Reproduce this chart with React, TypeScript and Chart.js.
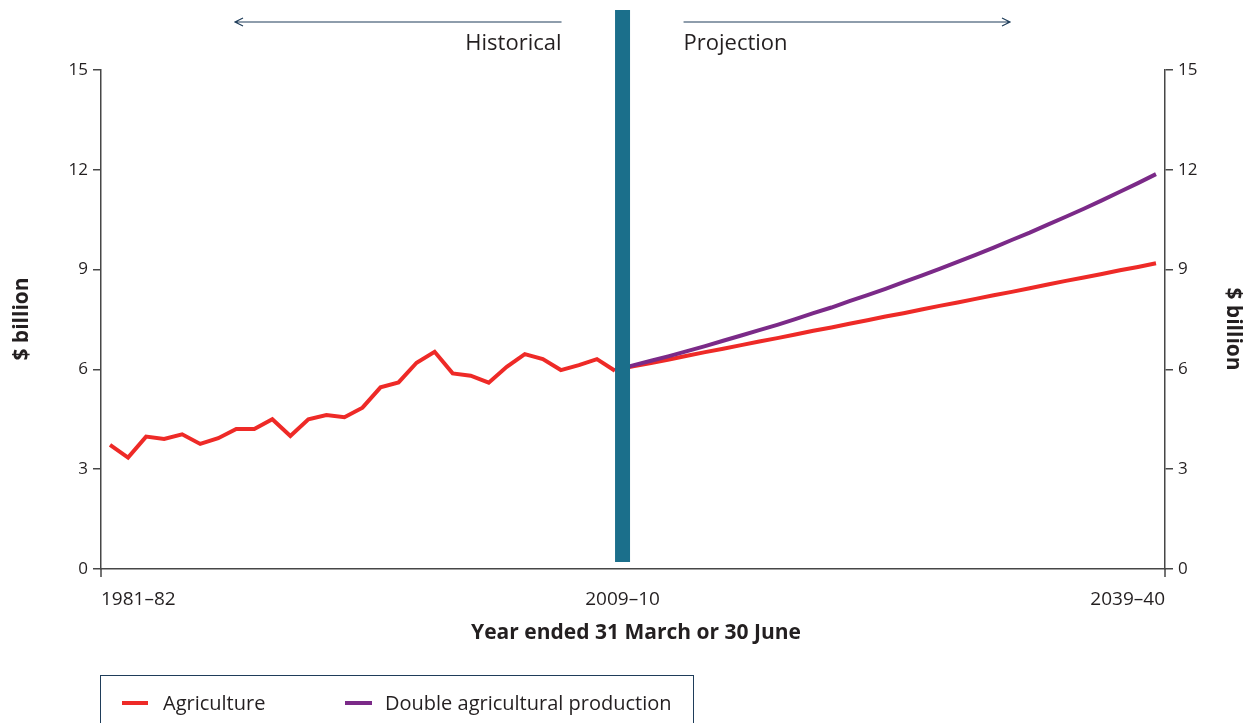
import React, { useEffect, useRef } from "react";
import { Chart, registerables } from "chart.js";

Chart.register(...registerables);

// ---------- data ----------
const firstYear = 1981;
const yearCount = 59; // 1981–82 .. 2039–40
const categories: string[] = Array.from({ length: yearCount }, (_, i) => {
  const y = firstYear + i;
  return `${y}–${String((y + 1) % 100).padStart(2, "0")}`;
});

// index of 2009–10 (last historical year)
const boundaryIndex = 28;

const historicalAgriculture: number[] = [
  3.73, 3.35, 3.98, 3.91, 4.05, 3.76, 3.93, 4.21, 4.21, 4.5,
  4.0, 4.5, 4.63, 4.56, 4.85, 5.46, 5.61, 6.2, 6.53, 5.88,
  5.81, 5.6, 6.08, 6.46, 6.31, 5.98, 6.13, 6.31, 5.96,
];

const projectedAgriculture: number[] = [
  5.98, 6.09, 6.19, 6.3, 6.41, 6.52, 6.62, 6.73, 6.84, 6.94,
  7.05, 7.16, 7.26, 7.37, 7.48, 7.59, 7.69, 7.8, 7.91, 8.01,
  8.12, 8.23, 8.33, 8.44, 8.55, 8.66, 8.76, 8.87, 8.98, 9.08, 9.19,
];

const projectedDouble: number[] = [
  5.98, 6.12, 6.26, 6.4, 6.55, 6.7, 6.86, 7.02, 7.18, 7.34,
  7.51, 7.69, 7.86, 8.05, 8.23, 8.42, 8.62, 8.82, 9.02, 9.23,
  9.44, 9.66, 9.89, 10.11, 10.35, 10.59, 10.83, 11.08, 11.34, 11.6, 11.87,
];

const xTickLabels = ["1981–82", "2009–10", "2039–40"];
const yMin = 0;
const yMax = 15;
const yStep = 3;

const seriesNames = ["Agriculture", "Double agricultural production"];
const periodLabels = ["Historical", "Projection"];
const xTitle = "Year ended 31 March or 30 June";
const yTitle = "$ billion";

// ---------- style ----------
const RED = "#ee2a27";
const PURPLE = "#7b2a88";
const BAR = "#1b6f8b";
const NAVY = "#1f3d5a";
const AXIS = "#474747";
const TEXT = "#231f20";
const FONT = "'Open Sans', 'Noto Sans', sans-serif";

const histData = categories.map((_, i) => (i < historicalAgriculture.length ? historicalAgriculture[i] : null));
const projAgData = categories.map((_, i) =>
  i >= boundaryIndex ? projectedAgriculture[i - boundaryIndex] ?? null : null
);
const projDoubleData = categories.map((_, i) =>
  i >= boundaryIndex ? projectedDouble[i - boundaryIndex] ?? null : null
);

const overlayPlugin = {
  id: "overlay",
  afterDatasetsDraw(chart: any) {
    const { ctx, scales } = chart;
    const x = scales.x;
    const y = scales.y;
    const p0 = x.getPixelForValue(boundaryIndex);
    const p1 = x.getPixelForValue(boundaryIndex + 1);
    const bx = p0 + (p1 - p0) * 0.42;
    const yBottom = y.getPixelForValue(yMin);

    ctx.save();
    // vertical divider bar
    ctx.fillStyle = BAR;
    ctx.fillRect(bx - 7.5, 10, 15, yBottom - 7 - 10);

    // arrows
    ctx.strokeStyle = NAVY;
    ctx.lineWidth = 1.2;
    const ay = 22;
    ctx.beginPath();
    ctx.moveTo(bx - 61, ay);
    ctx.lineTo(235, ay);
    ctx.moveTo(243, ay - 4);
    ctx.lineTo(235, ay);
    ctx.lineTo(243, ay + 4);
    ctx.moveTo(bx + 61, ay);
    ctx.lineTo(1010, ay);
    ctx.moveTo(1002, ay - 4);
    ctx.lineTo(1010, ay);
    ctx.lineTo(1002, ay + 4);
    ctx.stroke();

    ctx.fillStyle = TEXT;
    ctx.font = `22px ${FONT}`;
    ctx.textBaseline = "middle";
    ctx.textAlign = "right";
    ctx.fillText(periodLabels[0], bx - 61, 44);
    ctx.textAlign = "left";
    ctx.fillText(periodLabels[1], bx + 61, 44);

    // x axis end ticks
    ctx.strokeStyle = AXIS;
    ctx.lineWidth = 1.5;
    ctx.beginPath();
    ctx.moveTo(x.left, yBottom);
    ctx.lineTo(x.left, yBottom + 8);
    ctx.moveTo(x.right, yBottom);
    ctx.lineTo(x.right, yBottom + 8);
    ctx.stroke();

    // x tick labels
    ctx.font = `19px ${FONT}`;
    ctx.fillStyle = TEXT;
    ctx.textBaseline = "middle";
    ctx.textAlign = "left";
    ctx.fillText(xTickLabels[0], x.left, yBottom + 31);
    ctx.textAlign = "center";
    ctx.fillText(xTickLabels[1], bx, yBottom + 31);
    ctx.textAlign = "right";
    ctx.fillText(xTickLabels[2], x.right, yBottom + 31);

    // x title
    ctx.font = `bold 21px ${FONT}`;
    ctx.textAlign = "center";
    ctx.fillText(xTitle, 636, yBottom + 64);

    // y titles
    ctx.save();
    ctx.translate(22, 319);
    ctx.rotate(-Math.PI / 2);
    ctx.textAlign = "center";
    ctx.fillText(yTitle, 0, 0);
    ctx.restore();
    ctx.save();
    ctx.translate(1233, 329);
    ctx.rotate(Math.PI / 2);
    ctx.textAlign = "center";
    ctx.fillText(yTitle, 0, 0);
    ctx.restore();

    // legend
    ctx.strokeStyle = NAVY;
    ctx.lineWidth = 1;
    ctx.strokeRect(100.5, 675.5, 593, 80);
    ctx.lineWidth = 4;
    ctx.strokeStyle = RED;
    ctx.beginPath();
    ctx.moveTo(122, 703);
    ctx.lineTo(148, 703);
    ctx.stroke();
    ctx.strokeStyle = PURPLE;
    ctx.beginPath();
    ctx.moveTo(345, 703);
    ctx.lineTo(372, 703);
    ctx.stroke();
    ctx.font = `20px ${FONT}`;
    ctx.fillStyle = TEXT;
    ctx.textAlign = "left";
    ctx.fillText(seriesNames[0], 163, 704);
    ctx.fillText(seriesNames[1], 385, 704);
    ctx.restore();
  },
};

export default function App() {
  const ref = useRef<HTMLCanvasElement | null>(null);

  useEffect(() => {
    if (!ref.current) return;
    const yAxisCommon = {
      type: "linear" as const,
      min: yMin,
      max: yMax,
      ticks: {
        stepSize: yStep,
        color: TEXT,
        font: { family: FONT, size: 17 },
        padding: 5,
      },
      grid: {
        drawOnChartArea: false,
        drawTicks: true,
        tickLength: 8,
        color: AXIS,
        lineWidth: 1.5,
      },
      border: { display: true, color: AXIS, width: 1.5 },
    };
    const chart = new Chart(ref.current, {
      type: "line",
      data: {
        labels: categories,
        datasets: [
          {
            label: seriesNames[1],
            data: projDoubleData,
            borderColor: PURPLE,
            borderWidth: 4,
            pointRadius: 0,
            tension: 0,
            order: 0,
            yAxisID: "y",
          },
          {
            label: seriesNames[0],
            data: projAgData,
            borderColor: RED,
            borderWidth: 4,
            pointRadius: 0,
            tension: 0,
            order: 1,
            yAxisID: "y",
          },
          {
            label: seriesNames[0],
            data: histData,
            borderColor: RED,
            borderWidth: 4,
            pointRadius: 0,
            tension: 0,
            order: 1,
            yAxisID: "y",
          },
        ],
      },
      options: {
        responsive: false,
        animation: false,
        devicePixelRatio: 1,
        layout: { padding: { top: 70, left: 0, right: 0, bottom: 0 } },
        plugins: {
          legend: { display: false },
          tooltip: { enabled: false },
          title: { display: false },
        },
        scales: {
          x: {
            type: "category",
            offset: true,
            ticks: { display: false },
            grid: { display: false },
            border: { display: true, color: AXIS, width: 1.5 },
            afterFit: (s: any) => {
              s.height = 723 - 569;
            },
          },
          y: {
            ...yAxisCommon,
            position: "left",
            afterFit: (s: any) => {
              s.width = 101;
            },
          },
          y2: {
            ...yAxisCommon,
            position: "right",
            afterFit: (s: any) => {
              s.width = 1252 - 1165;
            },
          },
        },
      },
      plugins: [overlayPlugin],
    });
    return () => chart.destroy();
  }, []);

  return (
    <div style={{ position: "absolute", left: 0, top: 0, width: 1252, height: 723, background: "#fff" }}>
      <canvas ref={ref} width={1252} height={723} style={{ display: "block" }} />
    </div>
  );
}
